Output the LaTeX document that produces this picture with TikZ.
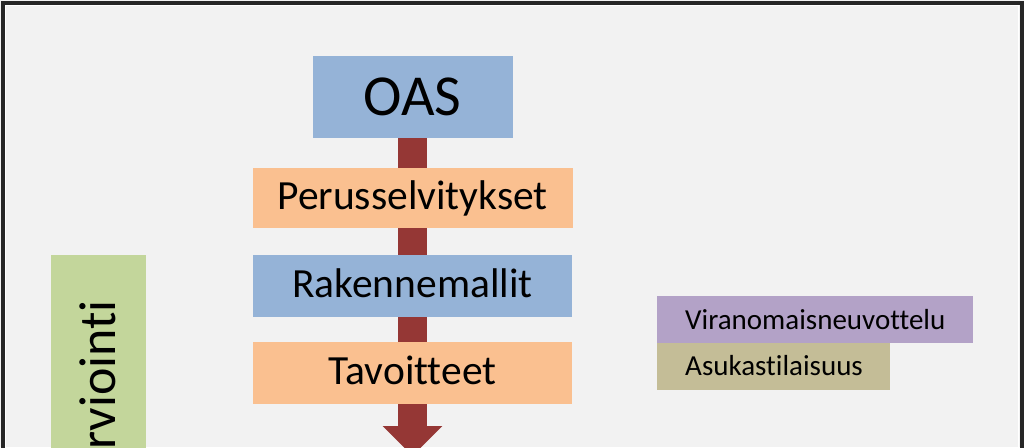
\documentclass[tikz,border=0pt]{standalone}
\usepackage{fontspec}
\setmainfont[Ligatures={NoCommon}]{Carlito}
\usetikzlibrary{arrows.meta,calc}
\definecolor{bg}{HTML}{F2F2F2}
\definecolor{boxblue}{HTML}{95B3D7}
\definecolor{boxpeach}{HTML}{FAC090}
\definecolor{boxgreen}{HTML}{C3D69B}
\definecolor{boxpurple}{HTML}{B3A2C7}
\definecolor{boxtan}{HTML}{C4BD97}
\definecolor{barred}{HTML}{953735}
\begin{document}
\begin{tikzpicture}[x=1pt,y=-1pt,
  stepbox/.style={rectangle, inner sep=0pt, text=black},
  bigtxt/.style={font=\fontsize{58}{62}\selectfont, text height=36.7pt, text depth=0pt},
  midtxt/.style={font=\fontsize{41.5}{46}\selectfont, text height=26pt, text depth=3pt},
  smalltxt/.style={font=\fontsize{29}{32}\selectfont},
  sidebox/.style={rectangle, inner sep=0pt, minimum height=47pt, anchor=north west},
  sidetxt/.style={anchor=base west, inner sep=0pt, text=black, smalltxt},
  bar/.style={draw=barred, line width=29pt}]
\useasboundingbox (0,0) rectangle (1024,447);
\clip (0,0) rectangle (1024,447);
\fill[bg] (0,0) rectangle (1024,447);
% frame
\draw[black!85, line width=4pt] (3,2.5) rectangle (1021.5,480);
\draw[white, line width=1.2pt] (5.8,5.2) rectangle (1018.6,480);
% central column
\node[stepbox, fill=boxblue, minimum width=200pt, minimum height=82pt, bigtxt] (oas) at (412.5,97) {OAS};
\node[stepbox, fill=boxpeach, minimum width=320pt, minimum height=60pt, midtxt] (per) at (412.5,198) {Perusselvitykset};
\node[stepbox, fill=boxblue, minimum width=319pt, minimum height=62pt, midtxt] (rak) at (412.5,286) {Rakennemallit};
\node[stepbox, fill=boxpeach, minimum width=319pt, minimum height=62pt, midtxt] (tav) at (412.5,373) {Tavoitteet};
\coordinate (arrend) at (412.5,456);
\draw[bar] (oas.south) -- (per.north);
\draw[bar] (per.south) -- (rak.north);
\draw[bar] (rak.south) -- (tav.north);
\draw[bar, -{Triangle[width=58pt,length=30pt]}] (tav.south) -- (arrend);
% left green box
\node[rectangle, inner sep=0pt, fill=boxgreen, minimum width=95pt, minimum height=260pt, anchor=north west] (arvbox) at (51,255) {};
\node[rotate=90, anchor=base east, inner sep=0pt, text=black, font=\fontsize{52}{56}\selectfont] (arvtxt) at (115,300) {Arviointi};
% right boxes
\node[sidebox, fill=boxpurple, minimum width=316pt] (vir) at (657,296) {};
\node[sidebox, fill=boxtan, minimum width=233pt] (asu) at (657,343) {};
\node[sidetxt] (virtxt) at (685,329) {Viranomaisneuvottelu};
\node[sidetxt] (asutxt) at (685,375) {Asukastilaisuus};
\end{tikzpicture}
\end{document}
